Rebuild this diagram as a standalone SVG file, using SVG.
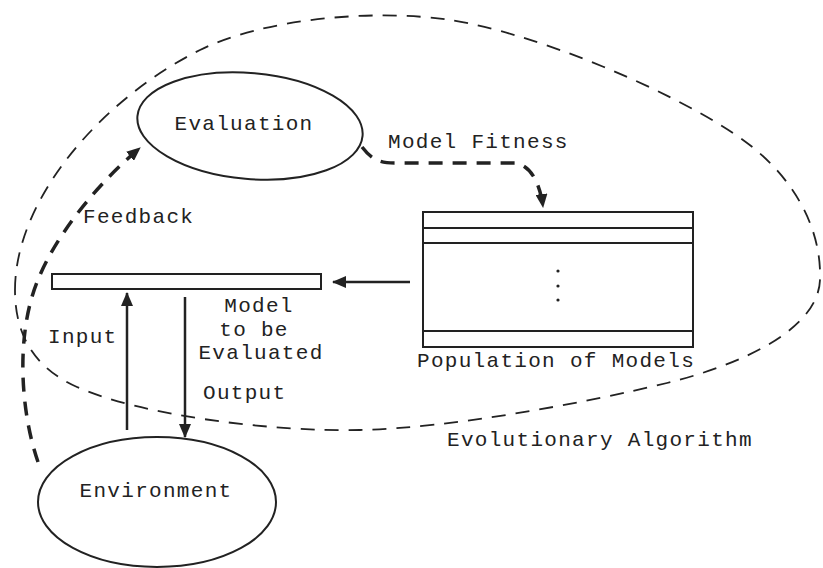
<svg xmlns="http://www.w3.org/2000/svg" width="823" height="568" viewBox="0 0 823 568">
<style>
  .t { font-family: "Liberation Mono", "Courier New", monospace; font-size: 21px; letter-spacing: 1.3px; fill: #222; }
  .shape { fill: none; stroke: #222; stroke-width: 2; }
  .solid { fill: none; stroke: #222; stroke-width: 2.5; }
  .thick { fill: none; stroke: #222; stroke-width: 3.5; stroke-dasharray: 14 10; }
  .thin { fill: none; stroke: #222; stroke-width: 1.8; stroke-dasharray: 14 10; }
</style>
<defs>
  <marker id="ah" markerWidth="14" markerHeight="12" refX="13" refY="6" orient="auto" markerUnits="userSpaceOnUse">
    <path d="M0,0 L14,6 L0,12 z" fill="#222"/>
  </marker>
</defs>
<rect width="823" height="568" fill="#fff"/>

<g id="ea-boundary">
  <path class="thin" d="M15,290 C15,200 100,100 200,50 C260,20 370,8 450,20 C530,32 660,85 733,133 C790,170 822,225 820,280 C818,330 740,365 667,383 C580,404 450,428 360,430 C270,432 140,415 77,387 C30,366 15,330 15,290 Z"/>
  <text class="t" x="447" y="446">Evolutionary Algorithm</text>
</g>

<g id="evaluation">
  <ellipse class="shape" cx="250" cy="126" rx="113" ry="53" transform="rotate(5 250 126)"/>
  <text class="t" x="244" y="130" text-anchor="middle">Evaluation</text>
</g>

<g id="environment">
  <ellipse class="shape" cx="157" cy="502" rx="119" ry="65"/>
  <text class="t" x="156" y="497" text-anchor="middle">Environment</text>
</g>

<g id="model-bar">
  <rect class="shape" x="52" y="274" width="269" height="15"/>
  <text class="t" x="259" y="312" text-anchor="middle">Model</text>
  <text class="t" x="254" y="336" text-anchor="middle">to be</text>
  <text class="t" x="261" y="359" text-anchor="middle">Evaluated</text>
</g>

<g id="population">
  <rect class="shape" x="423" y="212" width="270" height="135"/>
  <line class="shape" x1="423" y1="228" x2="693" y2="228"/>
  <line class="shape" x1="423" y1="243" x2="693" y2="243"/>
  <line class="shape" x1="423" y1="331" x2="693" y2="331"/>
  <circle cx="558" cy="271" r="1.6" fill="#222"/>
  <circle cx="558" cy="286" r="1.6" fill="#222"/>
  <circle cx="558" cy="300" r="1.6" fill="#222"/>
  <text class="t" x="417" y="367">Population of Models</text>
</g>

<g id="connectors">
  <path class="thick" d="M362,147 C372,160 380,163 395,163 L515,163 C530,165 540,182 543,207" marker-end="url(#ah)"/>
  <path class="thick" d="M38,462 C20,410 15,330 40,275 C55,240 90,190 140,148" marker-end="url(#ah)"/>
  <line class="solid" x1="410" y1="282" x2="333" y2="282" marker-end="url(#ah)"/>
  <line class="solid" x1="127" y1="430" x2="127" y2="293" marker-end="url(#ah)"/>
  <line class="solid" x1="185" y1="297" x2="185" y2="437" marker-end="url(#ah)"/>
  <text class="t" x="388" y="148">Model Fitness</text>
  <text class="t" x="83" y="223">Feedback</text>
  <text class="t" x="48" y="343">Input</text>
  <text class="t" x="203" y="399">Output</text>
</g>
</svg>
